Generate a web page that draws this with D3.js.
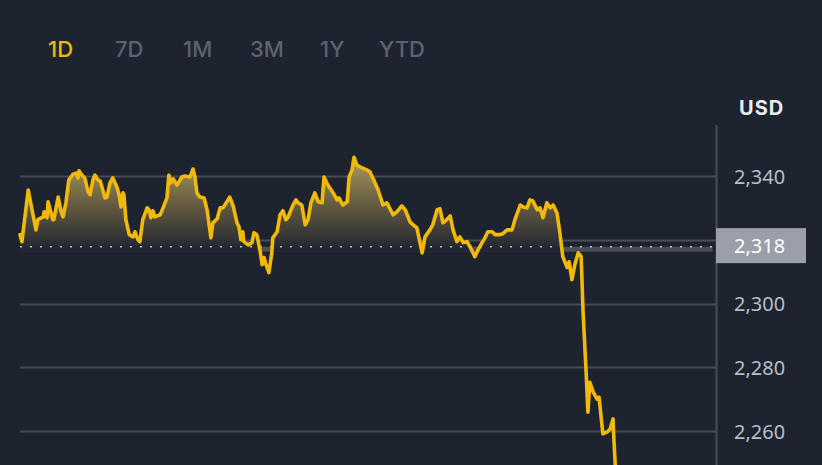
<!DOCTYPE html>
<html><head><meta charset="utf-8">
<script src="https://cdn.jsdelivr.net/npm/d3@7"></script>
<style>html,body{margin:0;padding:0;background:#1e2330;overflow:hidden;}</style>
</head><body><svg id="c" width="822" height="465"></svg>
<script>
// ---- data ----
const tabs = ["1D", "7D", "1M", "3M", "1Y", "YTD"];
const activeTab = "1D";
const currency = "USD";
const gridTicks = [2260, 2280, 2300, 2320, 2340];
const labelTicks = [2260, 2280, 2300, 2340];
const tickLabels = ["2,260", "2,280", "2,300", "2,340"];
const refPrice = 2318;
const refLabel = "2,318";
// minutes since start of the day (0..1440)
const minutes = [0,4,17,33,37,48,50,56,58,68,70,79,85,89,95,101,110,116,120,122,128,134,141,145,151,155,161,166,176,180,186,192,201,205,209,213,215,219,226,234,238,244,248,254,263,267,271,275,279,290,296,304,308,312,317,325,335,341,352,358,362,366,372,381,387,395,399,408,414,420,428,434,441,449,453,457,461,463,472,480,484,490,497,501,505,509,515,521,523,532,538,544,550,554,565,571,575,583,590,596,602,610,617,625,629,637,648,656,660,668,677,681,687,691,697,708,718,724,730,741,751,759,772,780,790,797,807,813,821,832,838,848,854,863,869,875,883,890,896,904,910,917,925,931,941,948,956,962,968,977,983,993,999,1008,1018,1024,1035,1041,1049,1055,1061,1070,1076,1082,1090,1097,1103,1111,1117,1123,1132,1136,1142,1148,1155,1161,1165,1171,1175,1179,1186,1194,1198,1206,1215,1221,1227,1229,1233];
const prices = [2321.6,2319.4,2335.6,2323.1,2326.3,2327.2,2328.8,2326.9,2331.9,2326.3,2326.3,2333.4,2328.8,2327.2,2331.6,2338.8,2340.6,2340.9,2339.4,2341.6,2340.3,2339.4,2335.0,2334.1,2338.8,2340.3,2338.8,2338.4,2333.1,2333.4,2337.8,2339.4,2336.3,2334.1,2330.3,2334.7,2334.1,2326.3,2321.6,2320.9,2322.5,2320.0,2319.4,2326.3,2330.0,2329.4,2326.9,2329.1,2327.2,2327.8,2330.0,2333.1,2340.3,2337.8,2339.1,2337.2,2339.7,2340.0,2339.7,2342.2,2339.7,2334.7,2333.4,2333.1,2329.4,2320.6,2325.3,2326.6,2330.0,2330.0,2331.9,2333.4,2330.6,2325.3,2324.1,2320.0,2322.5,2319.4,2318.4,2319.1,2322.2,2321.6,2316.3,2312.2,2314.4,2312.2,2309.7,2315.9,2320.6,2322.5,2327.8,2329.1,2326.3,2326.9,2330.9,2332.5,2331.6,2330.9,2324.7,2326.3,2331.6,2334.7,2331.9,2331.6,2339.7,2337.2,2334.7,2332.5,2333.1,2330.9,2331.9,2339.7,2341.9,2345.9,2343.4,2342.5,2341.9,2341.3,2339.4,2335.6,2330.9,2331.6,2327.8,2328.8,2330.6,2329.4,2325.6,2324.7,2323.8,2315.9,2320.9,2323.1,2324.7,2329.4,2329.7,2325.3,2326.3,2327.5,2323.1,2319.4,2320.9,2319.1,2319.4,2317.8,2314.7,2316.9,2319.1,2320.6,2322.5,2322.5,2321.6,2321.6,2321.9,2323.1,2323.1,2326.3,2330.9,2330.3,2330.0,2332.5,2332.2,2329.4,2330.0,2326.9,2331.6,2330.0,2330.9,2328.4,2322.2,2314.7,2311.3,2313.1,2307.5,2312.2,2315.9,2314.7,2297.2,2279.4,2265.9,2275.3,2272.2,2270.0,2270.6,2259.1,2259.7,2260.6,2263.8,2256.6,2245.0];

// ---- layout ----
const W = 822, H = 465;
const left = 20, axisX = 716;
const svg = d3.select("#c");
const bg = "#1e2330";
svg.append("rect").attr("width", W).attr("height", H).attr("fill", bg);

const x = d3.scaleLinear().domain([0, 1440]).range([left, axisX]);
const y = d3.scaleLinear().domain([2260, 2340]).range([431, 176]);
const data = minutes.map((m, i) => ({ m, p: prices[i] }));

// tabs
const tabX = [48, 115, 183, 250, 320, 379];
svg.append("g").selectAll("text").data(tabs).join("text")
  .attr("x", (d, i) => tabX[i]).attr("y", 57)
  .attr("font-family", "Inter, 'Noto Sans', sans-serif")
  .attr("font-size", 22).attr("font-weight", 500)
  .attr("fill", d => d === activeTab ? "#f0b90b" : "#5b6270")
  .text(d => d);

// gridlines
svg.append("g").selectAll("line").data(gridTicks).join("line")
  .attr("x1", left).attr("x2", axisX)
  .attr("y1", d => Math.round(y(d)) + 0.5).attr("y2", d => Math.round(y(d)) + 0.5)
  .attr("stroke", "#474d57").attr("stroke-width", 2);

// grey band under the reference line
const bandTop = y(refPrice) + 0.6, bandBot = bandTop + 5;
svg.append("rect").attr("x", left).attr("y", bandTop)
  .attr("width", x(1433) - left).attr("height", bandBot - bandTop)
  .attr("fill", "#4a4e57");

// area gradient (opaque)
const defs = svg.append("defs");
const grad = defs.append("linearGradient").attr("id", "g")
  .attr("gradientUnits", "userSpaceOnUse")
  .attr("x1", 0).attr("x2", 0)
  .attr("y1", y(d3.max(prices))).attr("y2", bandBot);
grad.append("stop").attr("offset", 0).attr("stop-color", "#ad9c5b");
grad.append("stop").attr("offset", 0.5).attr("stop-color", "#645b41");
grad.append("stop").attr("offset", 1).attr("stop-color", bg);

const area = d3.area().x(d => x(d.m)).y0(bandBot).y1(d => Math.min(y(d.p), bandBot));
svg.append("path").datum(data).attr("d", area).attr("fill", "url(#g)");

// dotted reference line
svg.append("line").attr("x1", left).attr("x2", x(1433))
  .attr("y1", y(refPrice) + 0.5).attr("y2", y(refPrice) + 0.5)
  .attr("stroke", "#b7bdc6").attr("stroke-width", 1.5)
  .attr("stroke-dasharray", "2 8");

// price line
const line = d3.line().x(d => x(d.m)).y(d => y(d.p));
svg.append("path").datum(data).attr("d", line)
  .attr("fill", "none").attr("stroke", "#f0b90b").attr("stroke-width", 3.6)
  .attr("stroke-linejoin", "round").attr("stroke-linecap", "round");

// right axis
svg.append("line").attr("x1", axisX + 0.5).attr("x2", axisX + 0.5)
  .attr("y1", 125).attr("y2", H).attr("stroke", "#474d57").attr("stroke-width", 2);

const yAxis = d3.axisRight(y).tickValues(labelTicks).tickSize(0)
  .tickFormat((d, i) => tickLabels[i]);
const ag = svg.append("g").attr("transform", `translate(${axisX},0)`).call(yAxis);
ag.select(".domain").remove();
ag.selectAll("text").attr("x", 18).attr("dy", "0.36em")
  .attr("font-family", "'Noto Sans', sans-serif").attr("font-size", 20)
  .attr("fill", "#b7bdc6");

svg.append("text").attr("x", 739).attr("y", 115)
  .attr("font-family", "Inter, 'Noto Sans', sans-serif").attr("font-size", 20)
  .attr("font-weight", 700).attr("fill", "#eaecef").attr("letter-spacing", 1)
  .text(currency);

// reference price label
const ry = y(refPrice);
svg.append("rect").attr("x", axisX).attr("y", ry - 18).attr("width", 90).attr("height", 35)
  .attr("fill", "#9a9fa9");
svg.append("text").attr("x", axisX + 18).attr("y", ry).attr("dy", "0.36em")
  .attr("font-family", "'Noto Sans', sans-serif").attr("font-size", 20)
  .attr("fill", "#ffffff").text(refLabel);
</script></body></html>
